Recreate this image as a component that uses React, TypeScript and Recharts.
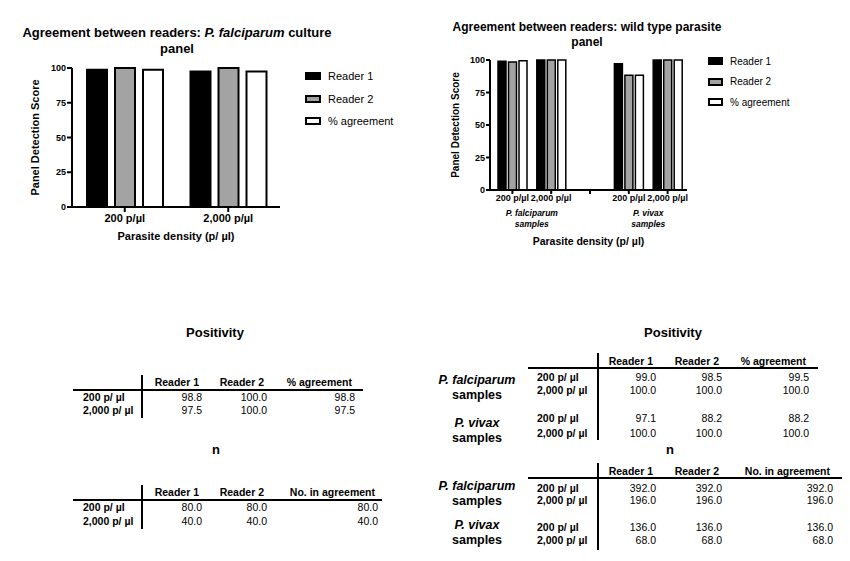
import React from 'react';
import { BarChart, Bar, XAxis, YAxis, Legend, Label } from 'recharts';

const FONT = '"Liberation Sans", Arial, Helvetica, sans-serif';

// ---------- chart data ----------
const seriesNames = ['Reader 1', 'Reader 2', '% agreement'];
const seriesFills = ['#000000', '#a3a3a3', '#ffffff'];
const yTicks = [0, 25, 50, 75, 100];

const cultureCategories = ['200 p/µl', '2,000 p/µl'];
const cultureReader1 = [98.8, 97.5];
const cultureReader2 = [100.0, 100.0];
const cultureAgreement = [98.8, 97.5];

const wildCategories = ['200 p/µl', '2,000 p/µl', '', '200 p/µl', '2,000 p/µl'];
const wildGroupLabels = ['P. falciparum', '', '', 'P. vivax', ''];
const wildGroupSuffix = 'samples';
const wildReader1 = [99.0, 100.0, null, 97.1, 100.0];
const wildReader2 = [98.5, 100.0, null, 88.2, 100.0];
const wildAgreement = [99.5, 100.0, null, 88.2, 100.0];

// ---------- table data ----------
const tableRowLabels = ['200 p/ µl', '2,000 p/ µl'];
const posHeaders = ['Reader 1', 'Reader 2', '% agreement'];
const nHeaders = ['Reader 1', 'Reader 2', 'No. in agreement'];

const culturePosReader1 = [98.8, 97.5];
const culturePosReader2 = [100.0, 100.0];
const culturePosAgreement = [98.8, 97.5];
const cultureNReader1 = [80.0, 40.0];
const cultureNReader2 = [80.0, 40.0];
const cultureNAgreement = [80.0, 40.0];

const wildTableGroups = ['P. falciparum', 'P. vivax'];
const wildPosReader1 = [99.0, 100.0, 97.1, 100.0];
const wildPosReader2 = [98.5, 100.0, 88.2, 100.0];
const wildPosAgreement = [99.5, 100.0, 88.2, 100.0];
const wildNReader1 = [392.0, 196.0, 136.0, 68.0];
const wildNReader2 = [392.0, 196.0, 136.0, 68.0];
const wildNAgreement = [392.0, 196.0, 136.0, 68.0];

const cultureData = cultureCategories.map((c, i) => ({
  key: 'c' + i,
  r1: cultureReader1[i],
  r2: cultureReader2[i],
  ag: cultureAgreement[i],
}));
const wildData = wildCategories.map((c, i) => ({
  key: 'w' + i,
  r1: wildReader1[i],
  r2: wildReader2[i],
  ag: wildAgreement[i],
}));

const seriesKeys = ['r1', 'r2', 'ag'];

const makeLegend = (fontSize: number, rowH: number, sw: number, sh: number) => (props: any) => {
  const payload = (props.payload || []).slice().sort(
    (a: any, b: any) => seriesNames.indexOf(a.value) - seriesNames.indexOf(b.value)
  );
  return (
    <div style={{ fontFamily: FONT, fontSize, color: '#000' }}>
      {payload.map((p: any, i: number) => (
        <div key={i} style={{ display: 'flex', alignItems: 'center', height: rowH }}>
          <span
            style={{
              display: 'inline-block',
              width: sw,
              height: sh,
              boxSizing: 'border-box',
              border: '2px solid #000',
              background: seriesFills[seriesNames.indexOf(p.value)],
              marginRight: 7,
            }}
          />
          <span>{p.value}</span>
        </div>
      ))}
    </div>
  );
};

const CultureTick = (props: any) => {
  const { x, y, payload } = props;
  return (
    <text x={x} y={y + 4} textAnchor="middle" dominantBaseline="central" fontFamily={FONT} fontSize={11} fontWeight="bold" fill="#000">
      {cultureCategories[payload.index]}
    </text>
  );
};

const WildTick = (props: any) => {
  const { x, y, payload } = props;
  const i = payload.index;
  const half = payload.offset || 0;
  const g = wildGroupLabels[i];
  return (
    <g>
      <text x={x} y={y + 2} textAnchor="middle" dominantBaseline="central" fontFamily={FONT} fontSize={9} fontWeight="bold" fill="#000">
        {wildCategories[i]}
      </text>
      {g ? (
        <g>
          <text x={x + half} y={y + 17} textAnchor="middle" dominantBaseline="central" fontFamily={FONT} fontSize={8.5} fontWeight="bold" fontStyle="italic" fill="#000">
            {g}
          </text>
          <text x={x + half} y={y + 28} textAnchor="middle" dominantBaseline="central" fontFamily={FONT} fontSize={8.5} fontWeight="bold" fontStyle="italic" fill="#000">
            {wildGroupSuffix}
          </text>
        </g>
      ) : null}
    </g>
  );
};

const xLabel = (dy: number, fontSize: number) => (props: any) => {
  const vb = props.viewBox || { x: 0, y: 0, width: 0, height: 0 };
  return (
    <text x={vb.x + vb.width / 2} y={vb.y + dy} textAnchor="middle" dominantBaseline="central" fontFamily={FONT} fontSize={fontSize} fontWeight="bold" fill="#000">
      Parasite density (p/ µl)
    </text>
  );
};

const yLabel = (dx: number, fontSize: number) => (props: any) => {
  const vb = props.viewBox || { x: 0, y: 0, width: 0, height: 0 };
  const cx = vb.x + dx;
  const cy = vb.y + vb.height / 2;
  return (
    <text x={cx} y={cy} transform={`rotate(-90 ${cx} ${cy})`} textAnchor="middle" dominantBaseline="central" fontFamily={FONT} fontSize={fontSize} fontWeight="bold" fill="#000">
      Panel Detection Score
    </text>
  );
};

const fmt = (v: number) => v.toFixed(1);

type SimpleTableProps = {
  title: string; titleX: number; titleY: number;
  headers: string[]; headerY: number; colRights: number[];
  rowLabelX: number; rowYs: number[]; rowLabels: string[];
  cols: number[][];
  vx: number; vy1: number; vy2: number; hy: number; hx1: number; hx2: number;
  groups?: { name: string; x: number; y1: number; y2: number }[];
};

const TableBlock = (p: SimpleTableProps) => (
  <g fontFamily={FONT} fill="#000">
    <text x={p.titleX} y={p.titleY} textAnchor="middle" dominantBaseline="central" fontSize={13} fontWeight="bold">{p.title}</text>
    {p.headers.map((h, i) => (
      <text key={'h' + i} x={p.colRights[i] - 3} y={p.headerY} textAnchor="end" dominantBaseline="central" fontSize={10.5} fontWeight="bold">{h}</text>
    ))}
    {p.rowYs.map((y, r) => (
      <text key={'rl' + r} x={p.rowLabelX} y={y} dominantBaseline="central" fontSize={10.5} fontWeight="bold">{p.rowLabels[r]}</text>
    ))}
    {p.cols.map((col, c) =>
      col.map((v, r) => (
        <text key={'v' + c + '_' + r} x={p.colRights[c]} y={p.rowYs[r]} textAnchor="end" dominantBaseline="central" fontSize={10.5}>{fmt(v)}</text>
      ))
    )}
    {(p.groups || []).map((g, i) => (
      <g key={'g' + i}>
        <text x={g.x} y={g.y1} textAnchor="middle" dominantBaseline="central" fontSize={12.5} fontWeight="bold" fontStyle="italic">{g.name}</text>
        <text x={g.x} y={g.y2} textAnchor="middle" dominantBaseline="central" fontSize={12.5} fontWeight="bold">{wildGroupSuffix}</text>
      </g>
    ))}
    <line x1={p.vx} x2={p.vx} y1={p.vy1} y2={p.vy2} stroke="#000" strokeWidth={2} />
    <line x1={p.hx1} x2={p.hx2} y1={p.hy} y2={p.hy} stroke="#000" strokeWidth={2} />
  </g>
);

export default function App() {
  const tickStyle = { fontFamily: FONT, fontSize: 9, fontWeight: 'bold', fill: '#000' };
  return (
    <div style={{ position: 'absolute', left: 0, top: 0, width: 850, height: 561, background: '#fff', overflow: 'hidden' }}>
      {/* Left chart */}
      <div style={{ position: 'absolute', left: 0, top: 0, width: 420, height: 260 }}>
        <BarChart width={420} height={260} data={cultureData} margin={{ top: 68, right: 140, bottom: 13, left: 32 }} barGap={8}>
          <XAxis dataKey="key" height={40} interval={0} padding={{ left: 1, right: 0 }} axisLine={{ stroke: '#000', strokeWidth: 2 }} tickLine={{ stroke: '#000', strokeWidth: 2 }} tickSize={5} tickMargin={2} tick={<CultureTick />}>
            <Label content={xLabel(29, 11)} />
          </XAxis>
          <YAxis width={40} domain={[0, 100]} ticks={yTicks} interval={0} axisLine={{ stroke: '#000', strokeWidth: 2 }} tickLine={{ stroke: '#000', strokeWidth: 2 }} tickSize={5} tickMargin={1} tick={tickStyle}>
            <Label content={yLabel(3, 11)} />
          </YAxis>
          <Legend layout="vertical" align="center" verticalAlign="middle" width={120} wrapperStyle={{ left: 305, top: 65, width: 120 }} content={makeLegend(11, 22.5, 16, 8)} />
          {seriesKeys.map((k, i) => (
            <Bar key={k} dataKey={k} name={seriesNames[i]} fill={seriesFills[i]} stroke="#000" strokeWidth={2} barSize={20} isAnimationActive={false} />
          ))}
        </BarChart>
      </div>

      {/* Right chart */}
      <div style={{ position: 'absolute', left: 420, top: 0, width: 430, height: 260 }}>
        <BarChart width={430} height={260} data={wildData} margin={{ top: 60, right: 163, bottom: 15, left: 30 }} barGap={2.5}>
          <XAxis dataKey="key" height={55} interval={0} padding={{ left: 3, right: 0 }} axisLine={{ stroke: '#000', strokeWidth: 2 }} tickLine={{ stroke: '#000', strokeWidth: 2 }} tickSize={4} tickMargin={2} tick={<WildTick />}>
            <Label content={xLabel(51, 10.5)} />
          </XAxis>
          <YAxis width={40} domain={[0, 100]} ticks={yTicks} interval={0} axisLine={{ stroke: '#000', strokeWidth: 2 }} tickLine={{ stroke: '#000', strokeWidth: 2 }} tickSize={4} tickMargin={1} tick={tickStyle}>
            <Label content={yLabel(5, 10)} />
          </YAxis>
          <Legend layout="vertical" align="center" verticalAlign="middle" width={120} wrapperStyle={{ left: 288, top: 51, width: 120 }} content={makeLegend(10, 20.5, 15, 8)} />
          {seriesKeys.map((k, i) => (
            <Bar key={k} dataKey={k} name={seriesNames[i]} fill={seriesFills[i]} stroke="#000" strokeWidth={1.5} barSize={8} isAnimationActive={false} />
          ))}
        </BarChart>
      </div>

      {/* Titles and tables */}
      <svg width={850} height={561} style={{ position: 'absolute', left: 0, top: 0, pointerEvents: 'none' }}>
        <g fontFamily={FONT} fontWeight="bold" fill="#000">
          <text x={177} y={32} textAnchor="middle" dominantBaseline="central" fontSize={13}>
            Agreement between readers:  <tspan fontStyle="italic">P. falciparum</tspan> culture
          </text>
          <text x={177} y={48} textAnchor="middle" dominantBaseline="central" fontSize={13}>panel</text>
          <text x={587} y={27} textAnchor="middle" dominantBaseline="central" fontSize={12}>Agreement between readers: wild type parasite</text>
          <text x={587} y={42} textAnchor="middle" dominantBaseline="central" fontSize={12}>panel</text>
        </g>

        <TableBlock
          title="Positivity" titleX={215} titleY={332}
          headers={posHeaders} headerY={382} colRights={[202, 267, 355]}
          rowLabelX={83} rowYs={[397, 410]} rowLabels={tableRowLabels}
          cols={[culturePosReader1, culturePosReader2, culturePosAgreement]}
          vx={142} vy1={375} vy2={418} hy={390} hx1={73} hx2={363}
        />
        <TableBlock
          title="n" titleX={216} titleY={449}
          headers={nHeaders} headerY={492} colRights={[202, 267, 378]}
          rowLabelX={83} rowYs={[507, 521]} rowLabels={tableRowLabels}
          cols={[cultureNReader1, cultureNReader2, cultureNAgreement]}
          vx={142} vy1={485} vy2={529} hy={500} hx1={73} hx2={382}
        />
        <TableBlock
          title="Positivity" titleX={673} titleY={332}
          headers={posHeaders} headerY={361} colRights={[656, 722, 809]}
          rowLabelX={537} rowYs={[377, 390, 418, 433]} rowLabels={[...tableRowLabels, ...tableRowLabels]}
          cols={[wildPosReader1, wildPosReader2, wildPosAgreement]}
          vx={598} vy1={353} vy2={440} hy={368} hx1={528} hx2={818}
          groups={[
            { name: wildTableGroups[0], x: 477, y1: 380, y2: 395 },
            { name: wildTableGroups[1], x: 477, y1: 423, y2: 438 },
          ]}
        />
        <TableBlock
          title="n" titleX={670} titleY={449}
          headers={nHeaders} headerY={471} colRights={[656, 722, 833]}
          rowLabelX={537} rowYs={[488, 500, 527, 540]} rowLabels={[...tableRowLabels, ...tableRowLabels]}
          cols={[wildNReader1, wildNReader2, wildNAgreement]}
          vx={598} vy1={463} vy2={550} hy={478} hx1={528} hx2={842}
          groups={[
            { name: wildTableGroups[0], x: 477, y1: 486, y2: 501 },
            { name: wildTableGroups[1], x: 477, y1: 525, y2: 540 },
          ]}
        />
      </svg>
    </div>
  );
}
